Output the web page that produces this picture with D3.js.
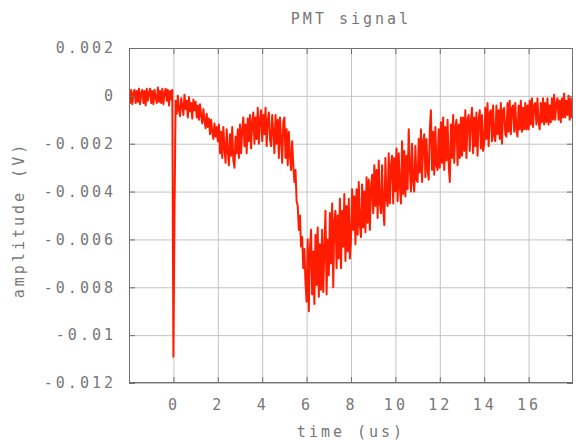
<!DOCTYPE html>
<html>
<head>
<meta charset="utf-8">
<script src="https://cdn.jsdelivr.net/npm/d3@7"></script>
<style>
  body { margin: 0; background: #fff; }
  svg { display: block; }
  text { font-family: "DejaVu Sans Mono", "Liberation Mono", monospace; fill: #777; }
</style>
</head>
<body>
<svg id="chart" width="576" height="442"></svg>
<script>
// ---- data ----
const chartTitle = "PMT signal";
const xLabel = "time (us)";
const yLabel = "amplitude (V)";
const xDomain = [-2, 18];
const yDomain = [-0.012, 0.002];
const xTicks = [0, 2, 4, 6, 8, 10, 12, 14, 16];
const xTickLabels = ["0", "2", "4", "6", "8", "10", "12", "14", "16"];
const yTicks = [0.002, 0, -0.002, -0.004, -0.006, -0.008, -0.01, -0.012];
const yTickLabels = ["0.002", "0", "-0.002", "-0.004", "-0.006", "-0.008", "-0.01", "-0.012"];

// oscilloscope sampling: first sample time and sample interval (us)
const sampleStartUs = -2;
const sampleIntervalUs = 0.05;
// amplitude of each sample in millivolts
const amplitudeMilliVolts = [
  0.2,-0.3,0.25,-0.35,0.1,0.25,-0.3,0.2,-0.25,0.3,
  -0.35,0.1,0.25,-0.3,0.2,-0.4,0.3,-0.2,0.15,0.3,
  -0.3,0.2,-0.35,0.25,-0.1,-0.3,0.35,-0.25,0.2,-0.3,
  0.3,-0.35,0.15,0.3,-0.2,0.25,-0.4,0.2,-0.15,0.25,
  -10.9,-4.9,
  -0.2,-0.75,0.0,-0.6,-0.85,-0.1,-0.4,-0.8,0.05,-0.55,
  -0.2,-0.9,-0.05,-0.65,-0.3,-0.95,-0.15,-0.6,
  -0.25,-0.9,-0.4,-1.0,-0.35,-0.85,-1.15,-0.55,-1.0,-1.35,
  -0.75,-1.3,-0.95,-1.6,-1.0,-1.5,-1.8,-1.15,-1.7,-1.3,
  -1.9,-1.2,-2.4,-1.5,-2.6,-1.3,-2.2,-2.8,-1.4,-2.3,
  -2.9,-1.6,-2.5,-1.3,-2.7,-3.0,-1.7,-2.4,-1.4,-2.6,
  -1.2,-2.4,-1.4,-0.9,-2.1,-1.2,-2.4,-0.95,-1.9,-0.8,
  -2.2,-1.1,-0.7,-2.0,-0.9,-1.8,-0.5,-2.0,-1.0,-0.6,
  -1.9,-0.8,-1.6,-0.5,-2.1,-1.0,-0.7,-1.8,-2.1,-0.8,
  -1.5,-2.4,-0.8,-2.0,-1.0,-2.6,-0.9,-1.8,-2.8,-1.1,
  -0.9,-2.6,-1.4,-2.9,-1.5,-2.5,-3.1,-1.9,-2.9,-3.6,
  -3.1,-4.4,-4.6,-5.6,-5.0,-6.3,-5.9,-7.2,-6.4,-7.8,
  -8.6,-6.0,-9.0,-6.4,-5.6,-8.3,-6.5,-8.7,-5.8,-7.9,
  -5.5,-8.4,-6.2,-8.1,-5.6,-8.2,-6.4,-4.8,-8.3,-6.0,
  -7.5,-4.9,-7.0,-4.5,-8.0,-5.2,-4.8,-7.2,-5.0,-6.8,
  -4.3,-7.2,-4.8,-6.3,-4.1,-6.9,-4.6,-6.5,-4.3,-6.8,
  -6.0,-3.9,-5.6,-4.2,-6.2,-3.9,-5.8,-3.6,-5.4,-5.9,
  -3.7,-5.5,-4.0,-5.7,-3.4,-5.3,-3.5,-5.6,-3.8,-3.3,
  -4.9,-2.9,-4.6,-3.1,-5.1,-2.7,-4.5,-4.9,-2.9,-4.7,
  -5.4,-2.6,-4.3,-4.6,-2.4,-4.5,-2.9,-2.5,-4.5,-2.6,
  -4.0,-2.2,-4.4,-2.4,-3.8,-4.5,-1.9,-4.1,-2.3,-4.2,
  -2.5,-3.9,-1.4,-3.0,-4.0,-2.0,-3.6,-4.0,-2.1,-3.5,
  -3.6,-1.8,-3.2,-1.4,-3.6,-1.9,-1.6,-3.4,-1.8,-3.1,
  -3.5,-1.4,-0.6,-3.1,-1.5,-3.3,-1.3,-2.9,-3.1,-1.4,
  -3.0,-1.1,-2.8,-0.9,-3.1,-1.3,-2.7,-1.0,-2.9,-3.6,
  -1.2,-2.6,-0.8,-2.8,-1.3,-1.0,-2.9,-1.2,-2.6,-0.9,
  -2.5,-0.9,-2.3,-0.6,-2.6,-1.0,-0.8,-2.3,-1.0,-0.5,
  -2.4,-0.9,-2.1,-0.7,-2.5,-1.0,-0.6,-2.2,-0.8,-2.3,
  -2.0,-0.5,-1.8,-0.3,-2.1,-0.7,-0.6,-1.9,-0.4,-1.7,
  -1.9,-0.4,-1.6,-0.6,-1.8,-0.3,-2.0,-0.6,-0.5,-1.6,
  -1.7,-0.3,-1.5,-0.2,-1.6,-0.5,-0.4,-1.5,-0.3,-1.4,
  -1.7,-0.4,-1.4,-0.2,-1.5,-0.5,-1.4,-0.3,-1.4,-0.4,
  -1.4,-0.2,-1.2,-0.1,-1.3,-0.4,-0.3,-1.2,-0.1,-1.1,
  -1.4,-0.3,-1.1,-0.1,-1.2,-0.3,-1.1,-0.1,-1.2,-0.4,
  -1.1,-0.1,-1.0,0.05,-1.0,-0.3,-0.1,-1.0,-0.2,-1.1,
  -0.1,-0.9,0.1,-0.9,-0.2,-0.8,0.0,-1.0,-0.1,-0.9,-0.4
];

// ---- layout ----
const W = 576, H = 442;
const plot = { left: 129, right: 573, top: 48, bottom: 383 };
const fontSize = 15, letterSpacing = 3;

const svg = d3.select("#chart");
const x = d3.scaleLinear().domain(xDomain).range([plot.left, plot.right]);
const y = d3.scaleLinear().domain(yDomain).range([plot.bottom, plot.top]);
const pw = plot.right - plot.left, ph = plot.bottom - plot.top;

// grid
const gridX = svg.append("g")
  .attr("transform", `translate(0,${plot.bottom})`)
  .call(d3.axisBottom(x).tickValues(xTicks).tickSize(-ph).tickFormat(""));
const gridY = svg.append("g")
  .attr("transform", `translate(${plot.left},0)`)
  .call(d3.axisLeft(y).tickValues(yTicks).tickSize(-pw).tickFormat(""));
[gridX, gridY].forEach(g => {
  g.select(".domain").remove();
  g.selectAll("line").attr("stroke", "#c4c4c4").attr("stroke-width", 1);
});

// signal
const series = amplitudeMilliVolts.map((mv, i) => ({ t: sampleStartUs + i * sampleIntervalUs, v: mv / 1000 }));
const defs = svg.append("defs");
defs.append("clipPath").attr("id", "clip")
  .append("rect").attr("x", plot.left).attr("y", plot.top).attr("width", pw).attr("height", ph);
defs.append("filter").attr("id", "soft").attr("x", "-5%").attr("y", "-5%").attr("width", "110%").attr("height", "110%")
  .append("feGaussianBlur").attr("stdDeviation", 0.35);
svg.append("g").attr("clip-path", "url(#clip)")
  .append("path")
  .datum(series)
  .attr("filter", "url(#soft)")
  .attr("fill", "none")
  .attr("stroke", "#ff1e00")
  .attr("stroke-width", 2)
  .attr("stroke-linejoin", "round")
  .attr("d", d3.line().x(d => x(d.t)).y(d => y(d.v)));

// axes with inward ticks and labels
const axB = svg.append("g").attr("transform", `translate(0,${plot.bottom})`)
  .call(d3.axisBottom(x).tickValues(xTicks).tickSize(-6).tickPadding(16)
    .tickFormat((d, i) => xTickLabels[i]));
const axT = svg.append("g").attr("transform", `translate(0,${plot.top})`)
  .call(d3.axisTop(x).tickValues(xTicks).tickSize(-6).tickFormat(""));
const axL = svg.append("g").attr("transform", `translate(${plot.left},0)`)
  .call(d3.axisLeft(y).tickValues(yTicks).tickSize(-6).tickPadding(13)
    .tickFormat((d, i) => yTickLabels[i]));
const axR = svg.append("g").attr("transform", `translate(${plot.right},0)`)
  .call(d3.axisRight(y).tickValues(yTicks).tickSize(-6).tickFormat(""));
[axB, axT, axL, axR].forEach(g => {
  g.select(".domain").remove();
  g.selectAll("line").attr("stroke", "#707070");
  g.selectAll("text")
    .attr("font-family", null)
    .attr("font-size", fontSize)
    .attr("letter-spacing", letterSpacing)
    .attr("fill", "#777");
});

// border
svg.append("rect")
  .attr("x", plot.left + 0.5).attr("y", plot.top + 0.5)
  .attr("width", pw - 1).attr("height", ph - 1)
  .attr("fill", "none").attr("stroke", "#707070").attr("stroke-width", 1);

// titles
svg.append("text").attr("x", (plot.left + plot.right) / 2).attr("y", 24)
  .attr("text-anchor", "middle").attr("font-size", fontSize).attr("letter-spacing", letterSpacing)
  .text(chartTitle);
svg.append("text").attr("x", (plot.left + plot.right) / 2).attr("y", 437)
  .attr("text-anchor", "middle").attr("font-size", fontSize).attr("letter-spacing", letterSpacing)
  .text(xLabel);
svg.append("text").attr("transform", "translate(24,220) rotate(-90)")
  .attr("text-anchor", "middle").attr("font-size", fontSize).attr("letter-spacing", letterSpacing)
  .text(yLabel);
</script>
</body>
</html>
